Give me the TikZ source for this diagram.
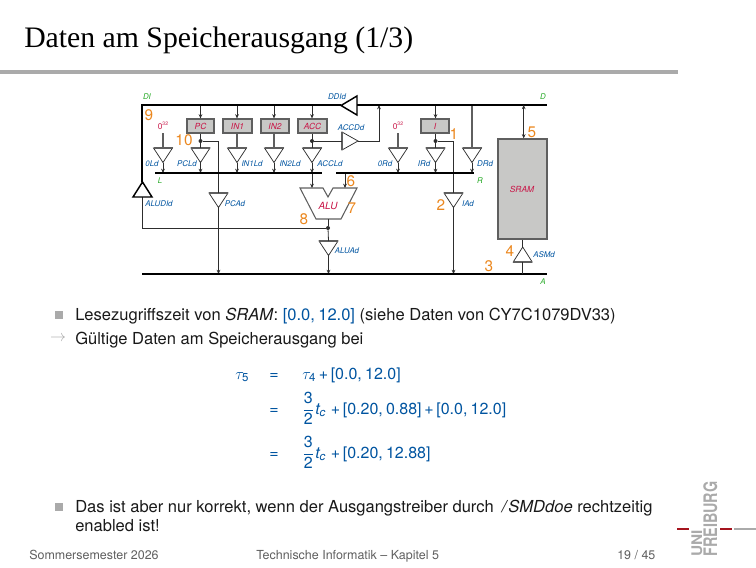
\documentclass[tikz,border=0pt]{standalone}
\usepackage{fontspec}
\setmainfont{TeX Gyre Heros}
\setsansfont{TeX Gyre Heros}
\newfontfamily\titlefont{Liberation Serif}
\usetikzlibrary{arrows.meta}
\definecolor{ublue}{RGB}{0,84,160}
\definecolor{ured}{RGB}{200,20,70}
\definecolor{ugreen}{RGB}{40,170,40}
\definecolor{uorange}{RGB}{235,135,30}
\definecolor{regfill}{RGB}{200,200,198}
\definecolor{dk}{RGB}{45,45,45}
\definecolor{md}{RGB}{95,95,95}
\definecolor{foot}{RGB}{95,95,95}
\definecolor{lg}{RGB}{170,170,170}
\definecolor{logored}{RGB}{165,20,30}
\tikzset{
 x=0.75pt,y=-0.75pt,
 bus/.style={line width=1.5pt,black},
 wire/.style={line width=0.6pt,dk},
 gwire/.style={line width=0.9pt,md},
 tip/.style={-{Stealth[length=3.2pt,width=2.8pt]}},
 drv/.style={line width=0.55pt,dk,fill=white},
 reg/.style={draw=md,line width=0.9pt,fill=regfill,inner sep=0pt},
 ctl/.style={inner sep=0pt,text=ublue,font=\fontsize{5.9}{7}\selectfont\itshape},
 regl/.style={inner sep=0pt,text=ured,font=\fontsize{6.3}{7}\selectfont\itshape},
 busl/.style={inner sep=0pt,text=ugreen,font=\fontsize{5.9}{7}\selectfont\itshape},
 num/.style={inner sep=0pt,text=uorange,font=\fontsize{11.5}{13}\selectfont},
 body/.style={inner sep=0pt,anchor=base west,font=\fontsize{12.4}{15}\selectfont,text=black!90},
 eq/.style={inner sep=0pt,anchor=base west,font=\fontsize{12}{15}\selectfont,text=ublue},
 foottext/.style={inner sep=0pt,anchor=base west,font=\fontsize{9.35}{11}\selectfont,text=foot},
 dotc/.style={circle,fill=dk,inner sep=0pt,minimum size=3pt},
 logot/.style={inner sep=0pt,anchor=base west,rotate=90,text=lg,font=\fontsize{14}{16}\selectfont\bfseries},
 logou/.style={logot,font=\fontsize{11}{13}\selectfont\bfseries},
}
\newcommand\drvD[3]{%
 \coordinate (#1t) at (#2,#3);
 \coordinate (#1b) at (#2,#3+14.5);
 \draw[drv] (#2-9.5,#3) -- (#2+9.5,#3) -- (#2,#3+14.5) -- cycle;
 \draw[gwire] (#2-9.5,#3) -- (#2+9.5,#3);}
\newcommand\drvU[3]{%
 \coordinate (#1t) at (#2,#3);
 \coordinate (#1b) at (#2,#3+15);
 \draw[drv] (#2-9.5,#3+15) -- (#2+9.5,#3+15) -- (#2,#3) -- cycle;
 \draw[gwire] (#2-9.5,#3+15) -- (#2+9.5,#3+15);}
\newcommand\register[6]{%
 \node[reg,minimum width={(#4-#2)*0.75pt},minimum height={(#5-#3)*0.75pt}] (#1) at ({(#2+#4)/2},{(#3+#5)/2}) {};
 \node[regl] (#1l) at (#1) {#6};}
\newcommand\subnum[1]{_{\hbox{\fontsize{8.6}{9}\selectfont #1}}}
\newcommand\threehalf{$\displaystyle\frac{\hbox{3}}{\hbox{2}}\hbox{\kern0.7pt\itshape t}\subnum{\itshape c}$\kern1.5pt}
\newcommand\cm{,\hspace{0.2em}}
\begin{document}
\begin{tikzpicture}
\useasboundingbox (0,0) rectangle (756,567);
\node[inner sep=0pt,anchor=base west,font=\fontsize{22.3}{26}\selectfont\titlefont] (title) at (24,48) {Daten am Speicherausgang (1/3)};
\coordinate (ruleL) at (0,72); \coordinate (ruleR) at (678,72);
\draw[line width=2.4pt,lg] (ruleL) -- (ruleR);

\coordinate (DL) at (142,105); \coordinate (DR) at (547,105);
\coordinate (AL) at (142,274); \coordinate (AR) at (547,274);
\coordinate (LL) at (155,173); \coordinate (LR) at (322,173);
\coordinate (RL) at (336,173); \coordinate (RR) at (474,173);

\register{pc}{187}{119}{214}{133}{PC}
\register{ina}{223}{119}{252}{133}{IN1}
\register{inb}{261}{119}{289}{133}{IN2}
\register{acc}{298}{119}{327}{133}{ACC}
\register{ireg}{421}{119}{449}{133}{I}
\register{sram}{498}{139}{547}{239}{}
\node[regl] (sraml) at (522,189) {SRAM};

\foreach \r/\xx in {pc/200.5,ina/237,inb/274,acc/312,ireg/435.5}{
  \coordinate (tap\r) at (\xx,105);
  \draw[wire,tip] (tap\r) -- (\r.north -| tap\r);
}
\node[inner sep=0pt,text=ured,font=\fontsize{6.2}{7}\selectfont] (zl) at (163,126) {0\raisebox{0.45em}{\fontsize{3.8}{4}\selectfont 32}};
\node[inner sep=0pt,text=ured,font=\fontsize{6.2}{7}\selectfont] (zr) at (398,126) {0\raisebox{0.45em}{\fontsize{3.8}{4}\selectfont 32}};
\coordinate (zlb) at (163,133); \coordinate (zrb) at (398,133);
\drvD{d0l}{163}{148}
\drvD{dpc}{200.5}{148}
\drvD{dia}{237}{148}
\drvD{dib}{274}{148}
\drvD{dac}{312}{148}
\drvD{d0r}{398}{148}
\drvD{dir}{435.5}{148}
\drvD{ddr}{472}{148}
\draw[gwire] (zlb) -- (d0lt);
\draw[gwire] (zrb) -- (d0rt);
\draw[wire] (pc.south -| dpct) -- (dpct);
\draw[gwire] (ina.south -| diat) -- (diat);
\draw[gwire] (inb.south -| dibt) -- (dibt);
\draw[wire] (acc.south -| dact) -- (dact);
\draw[wire] (ireg.south -| dirt) -- (dirt);
\coordinate (ddrtop) at (472,105);
\draw[gwire] (ddrtop) -- (ddrt);
\foreach \d in {d0l,dpc,dia,dib,dac}{
  \draw[wire,tip] (\d b) -- (\d b |- LL);
}
\foreach \d in {d0r,dir,ddr}{
  \draw[wire,tip] (\d b) -- (\d b |- RL);
}
\node[dotc] (dotpc) at (200.5,141) {};
\node[dotc] (dotacc) at (312,141) {};
\node[dotc] (dotir) at (435.5,141) {};
\drvD{dpa}{218.5}{193}
\draw[wire] (dotpc) -| (dpat);
\draw[wire,tip] (dpab) -- (dpab |- AL);
\drvD{dia2}{453.5}{193}
\draw[wire] (dotir) -| (dia2t);
\draw[wire,tip] (dia2b) -- (dia2b |- AL);
\coordinate (acdb) at (342,141); \coordinate (acdt) at (358,141);
\draw[drv] (342,132) -- (358,141) -- (342,150) -- cycle;
\draw[gwire] (342,132) -- (342,150);
\draw[wire] (dotacc) -- (acdb);
\coordinate (acup) at (379,141); \coordinate (acend) at (379,105);
\draw[wire,tip] (acdt) -- (acup) -- (acend);
\draw[line width=0.8pt,md,fill=white] (300,188) -- (323,188) -- (328,197) -- (333,188) -- (357,188) -- (341,219) -- (316,219) -- cycle;
\node[regl,font=\fontsize{7.4}{8}\selectfont\itshape] (alul) at (328,206) {ALU};
\coordinate (alua) at (312,188); \coordinate (alub) at (345,188); \coordinate (aluo) at (328,219);
\draw[wire,tip] (alua |- LL) -- (alua);
\draw[wire,tip] (alub |- RL) -- (alub);
\node[dotc] (dotalu) at (328,228) {};
\draw[wire] (aluo) -- (dotalu);
\drvD{dalu}{328.5}{241}
\draw[wire] (dotalu) -- (dalut);
\draw[wire,tip] (dalub) -- (dalub |- AL);
\draw[wire] (dotalu) -| (142,197);
\draw[line width=1.1pt,black,fill=white] (133,197) -- (152,197) -- (142.5,182) -- cycle;
\draw[bus] (142,182) -- (DL) -- (341,105);
\draw[line width=1.1pt,black,fill=white] (341,105.5) -- (357,96) -- (357,115) -- cycle;
\draw[bus] (357,105) -- (DR);
\draw[bus] (AL) -- (AR);
\draw[bus] (LL) -- (LR);
\draw[bus] (RL) -- (RR);
\coordinate (srt) at (523.7,105);
\draw[wire,{Stealth[length=3.2pt,width=2.8pt]}-{Stealth[length=3.2pt,width=2.8pt]}] (srt) -- (sram.north -| srt);
\drvU{dsr}{522.7}{247}
\draw[wire] (sram.south -| dsrt) -- (dsrt);
\draw[wire] (dsrb) -- (dsrb |- AL);

\node[ctl] (c1) at (152,164) {0Ld};
\node[ctl] (c2) at (187,164) {PCLd};
\node[ctl] (c3) at (252,164) {IN1Ld};
\node[ctl] (c4) at (290,164) {IN2Ld};
\node[ctl] (c5) at (330,164) {ACCLd};
\node[ctl] (c6) at (351,128) {ACCDd};
\node[ctl] (c7) at (337,97) {DDId};
\node[ctl] (c8) at (385,164) {0Rd};
\node[ctl] (c9) at (424,164) {IRd};
\node[ctl] (c10) at (485,164) {DRd};
\node[ctl] (c11) at (159,204) {ALUDId};
\node[ctl] (c12) at (235,204) {PCAd};
\node[ctl] (c13) at (468,204) {IAd};
\node[ctl] (c14) at (347,251) {ALUAd};
\node[ctl] (c15) at (544,255) {ASMd};
\node[busl] (b1) at (147,97) {DI};
\node[busl] (b2) at (543,97) {D};
\node[busl] (b3) at (160,181) {L};
\node[busl] (b4) at (480,181) {R};
\node[busl] (b5) at (543,282) {A};
\node[num] (n9) at (149,115) {9};
\node[num] (n10) at (184,140) {10};
\node[num] (n5) at (532,132) {5};
\node[num] (n1) at (454,134) {1};
\node[num] (n6) at (351,181) {6};
\node[num] (n7) at (352,208) {7};
\node[num] (n8) at (304,219) {8};
\node[num] (n2) at (441,205) {2};
\node[num] (n3) at (489,266) {3};
\node[num] (n4) at (510,251) {4};

\node[fill=lg,minimum size=6pt,inner sep=0pt] (b1sq) at (58.5,315) {};
\node[body] (t1) at (75,320) {Lesezugriffszeit von \textit{SRAM}: \textcolor{ublue}{[0.0\cm 12.0]} (siehe Daten von CY7C1079DV33)};
\node[inner sep=0pt,text=lg,font=\fontsize{12}{14}\selectfont] (arr) at (58,339) {$\rightarrow$};
\node[body] (t2) at (75,344) {Gültige Daten am Speicherausgang bei};
\node[eq] (e1a) at (235,379) {$\tau\subnum{5}$};
\node[eq] (e1b) at (269,379) {=};
\node[eq] (e1c) at (302,379) {$\tau\subnum{4}$\,+\,[0.0\cm 12.0]};
\node[eq] (e2b) at (269,414) {=};
\node[eq] (e2c) at (302,414) {\threehalf\,+\,[0.20\cm 0.88]\,+\,[0.0\cm 12.0]};
\node[eq] (e3b) at (269,458) {=};
\node[eq] (e3c) at (302,458) {\threehalf\,+\,[0.20\cm 12.88]};
\node[fill=lg,minimum size=6pt,inner sep=0pt] (b2sq) at (58.5,507) {};
\node[body] (t3) at (75,512) {Das ist aber nur korrekt, wenn der Ausgangstreiber durch \kern2.5pt\textit{/\kern1.5ptSMDdoe} rechtzeitig};
\node[body] (t4) at (75,531) {enabled ist!};
\node[foottext] (f1) at (29,559) {Sommersemester 2026};
\node[foottext] (f2) at (256,559) {Technische Informatik -- Kapitel 5};
\node[foottext] (f3) at (617,559) {19 / 45};
\node[logou] (lu) at (702,557) {\scalebox{1.05}[1]{UNI}};
\node[logot] (lf) at (717,557) {\scalebox{0.77}[1]{FREIBURG}};
\coordinate (lr1a) at (677,529); \coordinate (lr1b) at (689,529);
\coordinate (lr2a) at (720,529); \coordinate (lr2b) at (732,529);
\coordinate (lg1a) at (734,529); \coordinate (lg1b) at (756,529);
\draw[logored,line width=1.5pt] (lr1a) -- (lr1b);
\draw[logored,line width=1.5pt] (lr2a) -- (lr2b);
\draw[lg,line width=1.5pt] (lg1a) -- (lg1b);
\end{tikzpicture}
\end{document}
